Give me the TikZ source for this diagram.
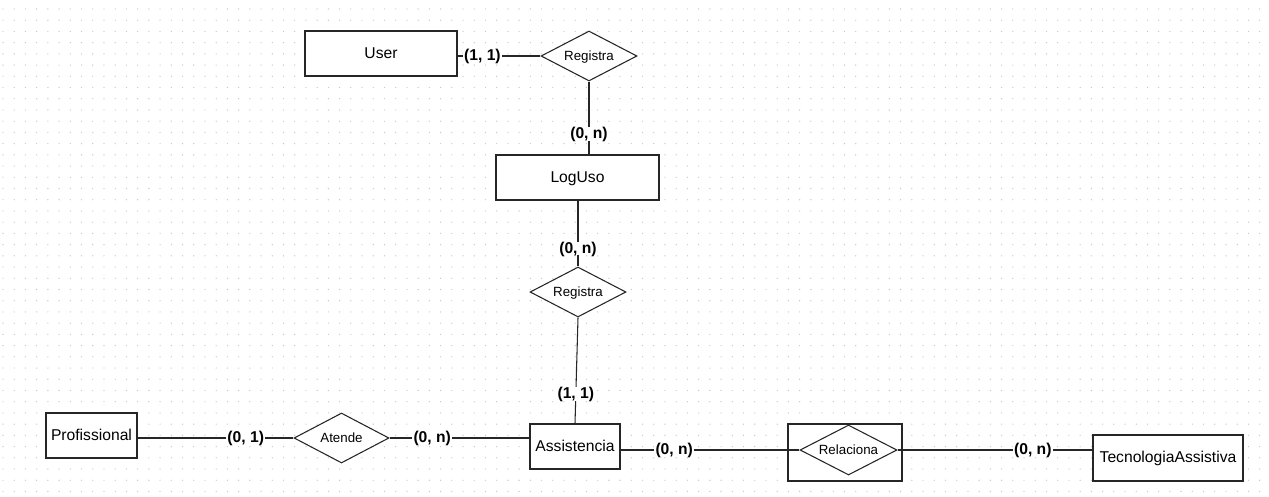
\documentclass[tikz,border=0pt]{standalone}
\usepackage{fontspec}
\setmainfont{Liberation Sans}
\usetikzlibrary{shapes.geometric}
\begin{document}
\begin{tikzpicture}[x=0.75pt,y=-0.75pt,
  ent/.style={draw=black!85, line width=0.8pt, fill=white, rectangle, inner sep=0pt,
    font=\fontsize{11.75}{14}\selectfont, text height=0.716em, text depth=0pt},
  rel/.style={draw=black!85, line width=0.8pt, fill=white, diamond, shape aspect=1.92, inner sep=0pt,
    font=\fontsize{10}{12}\selectfont, text height=0.716em, text depth=0pt},
  card/.style={fill=white, inner xsep=1pt, inner ysep=1.5pt,
    font=\bfseries\fontsize{11.75}{14}\selectfont, text height=0.716em, text depth=0pt},
  conn/.style={draw=black!85, line width=0.8pt}
]
\useasboundingbox[fill=white] (0,0) rectangle (1269,496);
% dotted grid
\foreach \i in {0,...,112}{
  \foreach \j in {0,...,43}{
    \fill[black!22] ({3+11.22*\i},{9+11.22*\j}) circle[radius=0.5pt];
  }
}
% entities and relationships
\node[ent, minimum width=114pt, minimum height=33.75pt] (user) at (381,53.5) {User};
\node[rel, minimum width=72pt, minimum height=37.5pt] (reg1) at (589,56) {Registra};
\node[ent, minimum width=122.25pt, minimum height=33.75pt] (loguso) at (577.5,177.5) {LogUso};
\node[rel, minimum width=72pt, minimum height=37.5pt] (reg2) at (578,292) {Registra};
\node[ent, minimum width=68.25pt, minimum height=33.75pt] (prof) at (91.5,435.5) {Profissional};
\node[rel, minimum width=71.25pt, minimum height=37.5pt] (atende) at (341.5,438) {Atende};
\node[ent, minimum width=67.5pt, minimum height=33.75pt] (assist) at (575,446.5) {Assistencia};
\node[draw=black!85, line width=0.8pt, fill=white, rectangle, minimum width=85.5pt, minimum height=42.75pt] (relbox) at (845,452.5) {};
\node[rel, minimum width=72.75pt, minimum height=37.5pt] (relac) at (848.5,450) {Relaciona};
\node[ent, minimum width=112.5pt, minimum height=34.5pt] (ta) at (1168,458) {TecnologiaAssistiva};
% connectors with cardinalities
\draw[conn] (reg1.west) -- node[card, pos=0.70] (c1) {(1, 1)} (reg1.west -| user.east);
\draw[conn] (reg1.south) -- node[card, pos=0.716] (c2) {(0, n)} (reg1.south |- loguso.north);
\draw[conn] (reg2.north) -- node[card, pos=0.27] (c3) {(0, n)} (reg2.north |- loguso.south);
\draw[conn] (reg2.south) -- node[card, pos=0.72] (c4) {(1, 1)} (assist.north);
\draw[conn] (atende.west) -- node[card, pos=0.306] (c5) {(0, 1)} (atende.west -| prof.east);
\draw[conn] (atende.east) -- node[card, pos=0.305] (c6) {(0, n)} (atende.east -| assist.west);
\draw[conn] (relac.west) -- node[card, pos=0.70] (c7) {(0, n)} (relac.west -| assist.east);
\draw[conn] (relac.east) -- node[card, pos=0.694] (c8) {(0, n)} (relac.east -| ta.west);
\end{tikzpicture}
\end{document}
